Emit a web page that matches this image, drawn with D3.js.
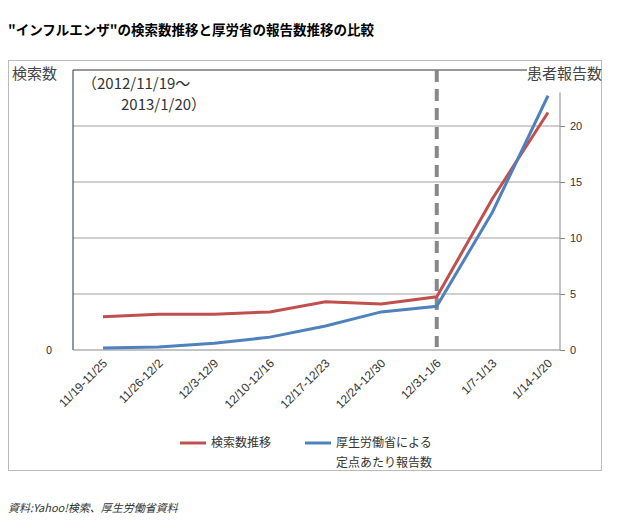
<!DOCTYPE html><html><head><meta charset="utf-8"><script src="https://cdn.jsdelivr.net/npm/d3@7"></script>
<style>body{margin:0;background:#fff}text{font-family:"Noto Sans CJK JP",sans-serif}</style></head><body><svg id="c" width="640" height="530"></svg><script>
const categories=["11/19-11/25","11/26-12/2","12/3-12/9","12/10-12/16","12/17-12/23","12/24-12/30","12/31-1/6","1/7-1/13","1/14-1/20"];
const searchSeries=[2.96,3.2,3.2,3.4,4.3,4.1,4.75,13.5,21.2];
const reportSeries=[0.18,0.27,0.6,1.15,2.15,3.4,3.9,12.3,22.7];
const rightTicks=[0,5,10,15,20];
const svg=d3.select("#c");
const L=73,R=560,T=70,B=350;
const x=d3.scalePoint().domain(categories).range([103,548]);
const y=d3.scaleLinear().domain([0,25]).range([B,T]);
svg.append("rect").attr("x",8.5).attr("y",60.5).attr("width",593).attr("height",410).attr("fill","none").attr("stroke","#bbb");
svg.append("text").attr("x",8).attr("y",35).attr("font-size",13.5).attr("font-weight","bold").text("\"インフルエンザ\"の検索数推移と厚労省の報告数推移の比較");
svg.selectAll(".g").data(rightTicks.slice(1)).join("line").attr("x1",L).attr("x2",R).attr("y1",d=>y(d)).attr("y2",d=>y(d)).attr("stroke","#888").attr("stroke-width",0.8);
svg.append("line").attr("x1",L).attr("x2",527).attr("y1",T).attr("y2",T).attr("stroke","#333");
svg.append("line").attr("x1",L).attr("x2",L).attr("y1",T).attr("y2",B).attr("stroke","#234");
svg.append("line").attr("x1",L).attr("x2",R).attr("y1",B).attr("y2",B).attr("stroke","#888");
const ax=svg.append("g").attr("transform",`translate(${R},0)`).call(d3.axisRight(y).tickValues(rightTicks).tickSize(5).tickPadding(5));
ax.select(".domain").attr("stroke","#888").attr("d",`M0,${y(23)}V${B}`);
ax.selectAll("line").attr("stroke","#888");ax.selectAll("text").attr("font-size",11).attr("fill","#333").style("font-family","sans-serif");
svg.append("text").attr("x",52).attr("y",354).attr("font-size",11).attr("fill","#333").attr("text-anchor","end").text("0");
svg.append("line").attr("x1",x("12/31-1/6")).attr("x2",x("12/31-1/6")).attr("y1",T).attr("y2",B-3).attr("stroke","#888").attr("stroke-width",4).attr("stroke-dasharray","12,7");
const line=d3.line().x((d,i)=>x(categories[i])).y(d=>y(d));
svg.append("path").datum(searchSeries).attr("d",line).attr("fill","none").attr("stroke","#c0504d").attr("stroke-width",3);
svg.append("path").datum(reportSeries).attr("d",line).attr("fill","none").attr("stroke","#4f81bd").attr("stroke-width",3);
svg.selectAll(".xl").data(categories).join("text").attr("font-size",12).attr("fill","#333").attr("text-anchor","end").style("font-family","sans-serif")
 .attr("transform",d=>`translate(${x(d)+5},${B+14}) rotate(-45)`).text(d=>d);
svg.append("text").attr("x",12).attr("y",79).attr("font-size",15).attr("fill","#444").text("検索数");
svg.append("text").attr("x",527).attr("y",79).attr("font-size",15).attr("fill","#444").text("患者報告数");
svg.append("text").attr("x",82).attr("y",89).attr("font-size",15).attr("fill","#333").text("（2012/11/19～");
svg.append("text").attr("x",121).attr("y",110).attr("font-size",15).attr("fill","#333").text("2013/1/20）");
svg.append("line").attr("x1",180).attr("x2",206).attr("y1",443).attr("y2",443).attr("stroke","#c0504d").attr("stroke-width",3);
svg.append("text").attr("x",211).attr("y",447).attr("font-size",12).attr("fill","#333").text("検索数推移");
svg.append("line").attr("x1",305).attr("x2",331).attr("y1",443).attr("y2",443).attr("stroke","#4f81bd").attr("stroke-width",3);
svg.append("text").attr("x",336).attr("y",447).attr("font-size",12).attr("fill","#333").text("厚生労働省による");
svg.append("text").attr("x",336).attr("y",467).attr("font-size",12).attr("fill","#333").text("定点あたり報告数");
svg.append("text").attr("x",8).attr("y",512).attr("font-size",11).attr("font-style","italic").attr("fill","#333").text("資料:Yahoo!検索、厚生労働省資料");
</script></body></html>
